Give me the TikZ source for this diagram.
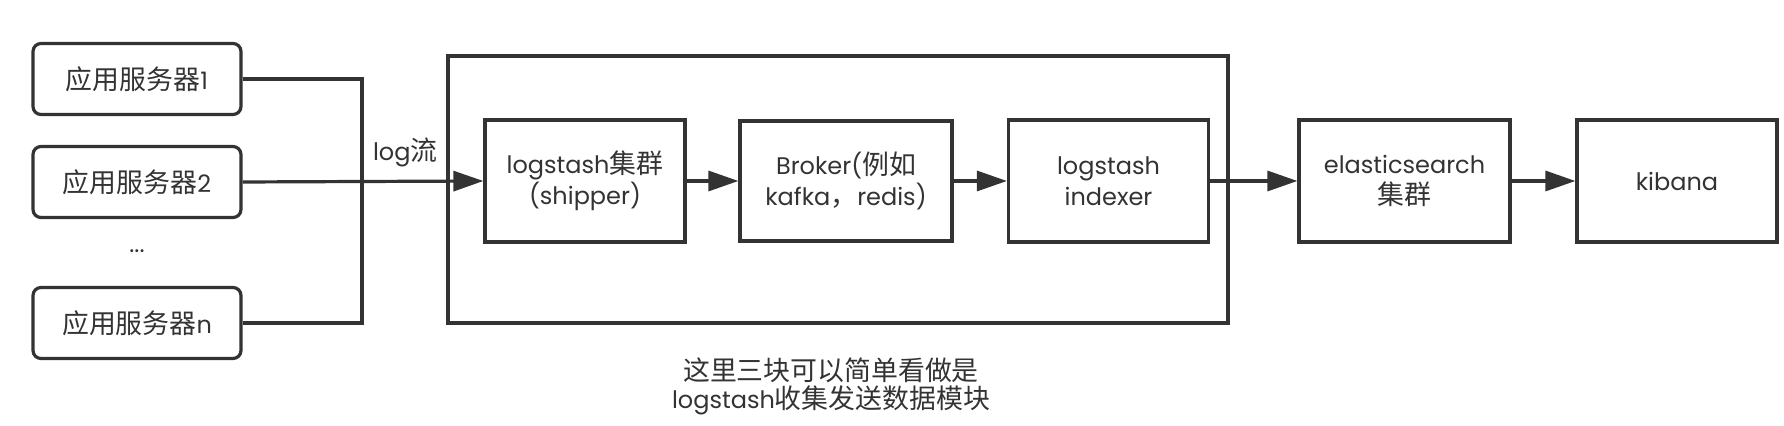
\documentclass[tikz,border=0pt]{standalone}
\usepackage{fontspec}
\setmainfont{Poppins}
\newfontfamily\cjk[Scale=1.12]{Noto Sans CJK SC}
\usetikzlibrary{arrows.meta}
\definecolor{ink}{HTML}{333333}
\tikzset{
	txt/.style={text=ink, align=center, font=\fontsize{12}{15.5}\selectfont},
	box/.style={txt, draw=ink, line width=1.6pt, minimum width=100pt, minimum height=61pt},
	srv/.style={box, rounded corners=4pt, minimum width=104pt, minimum height=35.5pt},
	flow/.style={draw=ink, line width=1.6pt, -{Triangle[length=15pt,width=10pt]}},
	wire/.style={draw=ink, line width=1.6pt},
}

\begin{document}
\begin{tikzpicture}[x=0.5pt, y=-0.5pt]
	\useasboundingbox (0,0) rectangle (1784,426);

	\foreach \i/\y in {1/79,2/182,n/323}{
		\node[srv] (app\i) at (137,\y) {{\cjk 应用服务器}\i};
	}
	\node[txt] (dots) at (137,251) {...};

	\node[box, minimum width=390pt, minimum height=133.5pt] (group) at (838,189.5) {};

	\node[box] (shipper) at (585,181) {logstash{\cjk 集群}\\(shipper)};
	\node[box, minimum width=106pt, minimum height=60pt] (broker) at (846,181) {Broker({\cjk 例如}\\kafka{\cjk ，}redis)};
	\node[box] (indexer) at (1108.5,181) {logstash\\indexer};
	\node[box, minimum width=105.5pt] (es) at (1404.5,181) {elasticsearch\\{\cjk 集群}};
	\node[box] (kibana) at (1677,181) {kibana};

	\coordinate (bus) at (362,0);
	\draw[wire] (app1.east) -| (bus |- appn.east) -- (appn.east);
	\node[txt, anchor=west] (loglabel) at (366,152) {log{\cjk 流}};

	\draw[flow] (app2.east) -- (shipper.west);
	\draw[flow] (shipper) -- (broker);
	\draw[flow] (broker) -- (indexer);
	\draw[flow] (indexer) -- (es);
	\draw[flow] (es) -- (kibana);

	\node[txt, font=\fontsize{12}{14}\selectfont] (note) at (831,386) {{\cjk 这里三块可以简单看做是}\\logstash{\cjk 收集发送数据模块}};
\end{tikzpicture}
\end{document}
